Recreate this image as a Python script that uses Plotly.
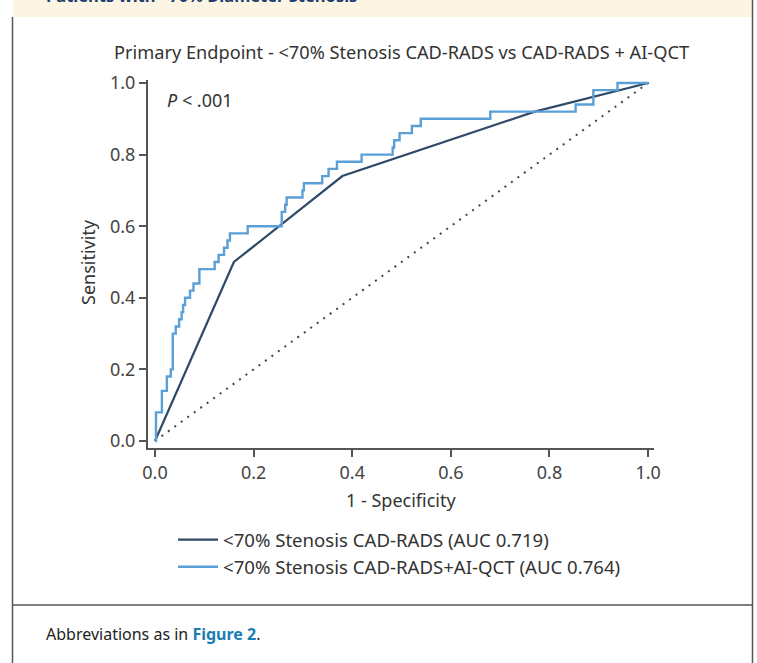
import plotly.graph_objects as go

# ---- data ----
cad_fpr = [0.0, 0.16, 0.38, 0.77, 1.0]
cad_tpr = [0.0, 0.50, 0.74, 0.92, 1.0]

ai_fpr = [0.0, 0.002, 0.014, 0.024, 0.032, 0.036, 0.042, 0.049, 0.054, 0.057, 0.061,
          0.071, 0.078, 0.090, 0.121, 0.129, 0.140, 0.147, 0.152, 0.188, 0.257, 0.264,
          0.267, 0.299, 0.302, 0.339, 0.352, 0.369, 0.419, 0.482, 0.485, 0.496, 0.521,
          0.539, 0.680, 0.853, 0.889, 0.938, 1.0]
ai_tpr = [0.0, 0.08, 0.14, 0.18, 0.20, 0.30, 0.32, 0.34, 0.36, 0.38, 0.40,
          0.42, 0.44, 0.48, 0.50, 0.52, 0.54, 0.56, 0.58, 0.60, 0.64, 0.66,
          0.68, 0.70, 0.72, 0.74, 0.76, 0.78, 0.80, 0.82, 0.84, 0.86, 0.88,
          0.90, 0.92, 0.94, 0.98, 1.00, 1.00]

ref_x = [0.0, 1.01]
ref_y = [0.0, 1.01]

tick_vals = [0.0, 0.2, 0.4, 0.6, 0.8, 1.0]
tick_text = ["0.0", "0.2", "0.4", "0.6", "0.8", "1.0"]

series_names = ["<70% Stenosis CAD-RADS (AUC 0.719)",
                "<70% Stenosis CAD-RADS+AI-QCT (AUC 0.764)"]

FONT = "Noto Sans"
W, H = 757, 663
ML, MR, MT, MB = 148, 103, 80, 215

fig = go.Figure()
fig.add_trace(go.Scatter(x=ref_x, y=ref_y, mode="lines", showlegend=False,
                         line=dict(color="#444444", width=2, dash="2px,6px"),
                         hoverinfo="skip"))
fig.add_trace(go.Scatter(x=cad_fpr, y=cad_tpr, mode="lines", name=series_names[0],
                         line=dict(color="#2d4a68", width=2.2)))
fig.add_trace(go.Scatter(x=ai_fpr, y=ai_tpr, mode="lines", name=series_names[1],
                         line=dict(color="#5a9fd6", width=2.4, shape="hv")))

axis_common = dict(showgrid=False, zeroline=False, showline=True, linecolor="#555555",
                   linewidth=2, ticks="outside", ticklen=7, tickwidth=2, tickcolor="#555555",
                   tickvals=tick_vals, ticktext=tick_text,
                   tickfont=dict(family=FONT, size=18, color="#444444"))
fig.update_xaxes(range=[-0.0142, 1.012], **axis_common)
fig.update_yaxes(range=[-0.0196, 1.0084], **axis_common)

def px_x(p):
    return (p - ML) / (W - ML - MR)

def px_y(p):
    return (H - MB - p) / (H - MT - MB)

annotations = [
    dict(text="Primary Endpoint - <70% Stenosis CAD-RADS vs CAD-RADS + AI-QCT",
         x=0.5, y=px_y(52), xref="paper", yref="paper", showarrow=False,
         xanchor="center", yanchor="middle",
         font=dict(family=FONT, size=18.2, color="#333333")),
    dict(text="<i>P</i> < .001", x=0.02, y=0.953, xref="x", yref="y", showarrow=False,
         xanchor="left", yanchor="middle", font=dict(family=FONT, size=18, color="#333333")),
    dict(text="Sensitivity", x=px_x(88), y=px_y(262), xref="paper", yref="paper",
         showarrow=False, textangle=-90, xanchor="center", yanchor="middle",
         font=dict(family=FONT, size=18, color="#333333")),
    dict(text="1 - Specificity", x=0.5, y=px_y(500), xref="paper", yref="paper",
         showarrow=False, xanchor="center", yanchor="middle",
         font=dict(family=FONT, size=18, color="#333333")),
    dict(text="Patients with <70% Diameter Stenosis", x=px_x(44), y=px_y(9),
         xref="paper", yref="paper", showarrow=False, xanchor="left", yanchor="bottom",
         font=dict(family=FONT, size=16.5, color="#1d3e6e", weight="bold")),
    dict(text="Abbreviations as in <b><span style='color:#1b7db3'>Figure 2</span></b>.",
         x=px_x(44), y=px_y(634), xref="paper", yref="paper", showarrow=False,
         xanchor="left", yanchor="middle", font=dict(family=FONT, size=16, color="#222222")),
]

shapes = [
    dict(type="rect", xref="paper", yref="paper", x0=px_x(13), x1=px_x(752),
         y0=px_y(17), y1=px_y(-5), fillcolor="#fdf5e3", line=dict(width=0), layer="below"),
    dict(type="line", xref="paper", yref="paper", x0=px_x(12.5), x1=px_x(12.5),
         y0=px_y(17), y1=px_y(670), line=dict(color="#555555", width=1.5)),
    dict(type="line", xref="paper", yref="paper", x0=px_x(752.5), x1=px_x(752.5),
         y0=px_y(-5), y1=px_y(670), line=dict(color="#555555", width=1.5)),
    dict(type="line", xref="paper", yref="paper", x0=px_x(12.5), x1=px_x(752.5),
         y0=px_y(605), y1=px_y(605), line=dict(color="#555555", width=1.5)),
]

fig.update_layout(
    width=W, height=H, margin=dict(l=ML, r=MR, t=MT, b=MB, autoexpand=False),
    paper_bgcolor="white", plot_bgcolor="white",
    font=dict(family=FONT, size=16, color="#333333"),
    annotations=annotations, shapes=shapes,
    showlegend=True,
    legend=dict(x=px_x(173), y=px_y(521), xanchor="left", yanchor="top",
                bgcolor="rgba(0,0,0,0)", font=dict(family=FONT, size=18.6, color="#333333"),
                tracegroupgap=0, itemwidth=40),
)

fig.write_html("out.html")
